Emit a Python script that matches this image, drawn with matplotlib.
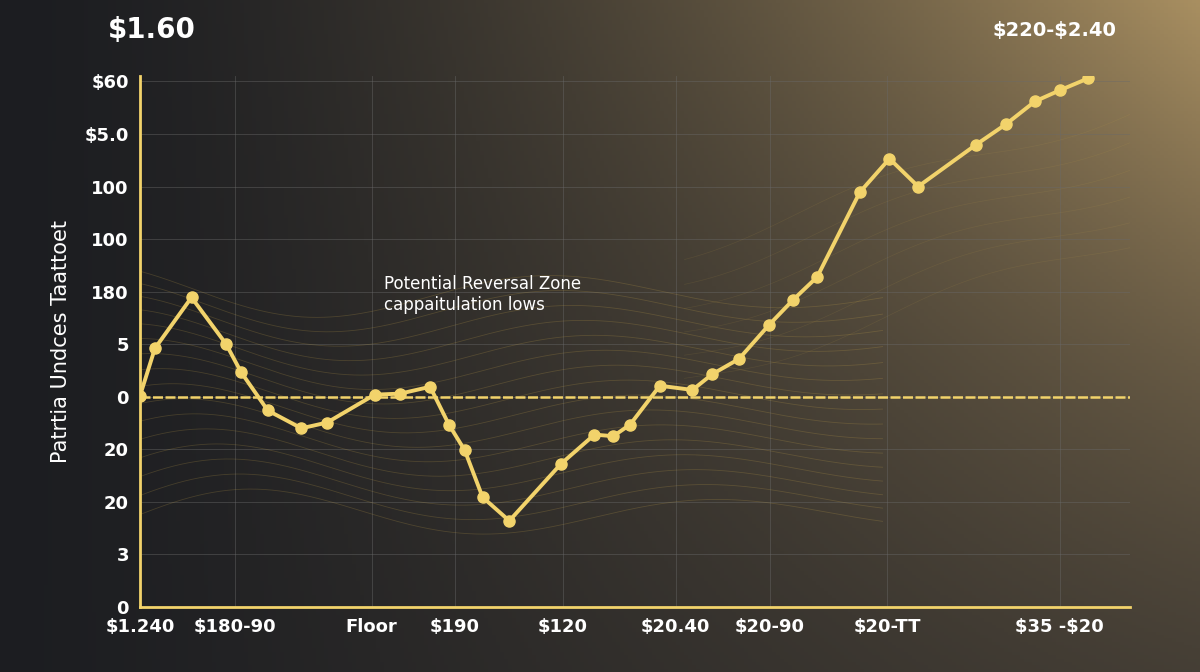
import numpy as np
import matplotlib
matplotlib.use("Agg")
import matplotlib.pyplot as plt

x_vals = [0.0,1.5,5.2,8.7,10.2,12.9,16.3,18.9,23.7,26.3,29.3,31.2,32.8,34.6,37.3,42.5,45.9,47.8,49.5,52.5,55.8,57.8,60.5,63.5,66.0,68.4,72.7,75.7,78.6,84.4,87.5,90.4,92.9,95.8]
y_vals = [4.02,4.92,5.89,5.0,4.47,3.74,3.4,3.51,4.04,4.06,4.19,3.47,2.98,2.09,1.64,2.72,3.28,3.25,3.47,4.21,4.13,4.43,4.72,5.36,5.85,6.28,7.89,8.53,8.0,8.79,9.19,9.62,9.83,10.06]
ytick_labels = ["0","3","20","20","0","5","180","100","100","$5.0","$60"]
xtick_pos = [0,9.6,23.4,31.8,42.7,54.1,63.6,75.5,92.9]
xtick_labels = ["$1.240","$180-90","Floor","$190","$120","$20.40","$20-90","$20-TT","$35 -$20"]

def esc(s):
    return s.replace("$", r"\$")

fig = plt.figure(figsize=(12,6.72), dpi=100)
bg = fig.add_axes([0,0,1,1]); bg.set_axis_off()
xx, yy = np.meshgrid(np.linspace(0,1,300), np.linspace(0,1,200))
dark = np.array([0.11,0.115,0.13]); tan = np.array([0.66,0.56,0.38]); mid = np.array([0.24,0.22,0.2])
t = np.clip(xx**1.6*(0.35+0.65*(1-yy)), 0, 1)[..., None]
img = dark*(1-t) + tan*t
t2 = np.clip(xx*yy*0.5,0,1)[...,None]
img = img*(1-t2)+mid*t2
bg.imshow(img, extent=[0,1,0,1], aspect='auto', origin='upper')

ax = fig.add_axes([0.1167,0.0967,0.825,0.79])
ax.set_facecolor('none')
gold = '#f2d36b'
xs = np.linspace(0,75,400)
for k in range(16):
    off = 4 + (k-8)*0.28
    amp = 0.55*np.exp(-xs/90)
    ax.plot(xs, off + amp*np.sin(xs/7.5 + k*0.15), color='#c9a64a', lw=0.6, alpha=0.22)
xs2 = np.linspace(55,100,200)
for k in range(6):
    ax.plot(xs2, 4.3+k*0.5+(xs2-55)*0.06+0.2*np.sin(xs2/6+k*0.3), color='#c9a64a', lw=0.5, alpha=0.12)
ax.set_xlim(0,100); ax.set_ylim(0,10.1)
ax.grid(True, color='#6a6a6a', lw=0.6, alpha=0.5)
ax.axhline(4, color=gold, lw=1.8, ls=(0,(4,1)))
ax.plot(x_vals, y_vals, color=gold, lw=2.8, marker='o', ms=8, zorder=5)
ax.set_yticks(range(11)); ax.set_yticklabels([esc(s) for s in ytick_labels])
ax.set_xticks(xtick_pos); ax.set_xticklabels([esc(s) for s in xtick_labels])
ax.tick_params(colors='white', labelsize=13, length=0, pad=8)
for l in ax.get_xticklabels()+ax.get_yticklabels(): l.set_fontweight('bold')
for s in ['top','right']: ax.spines[s].set_visible(False)
for s in ['left','bottom']: ax.spines[s].set_color(gold); ax.spines[s].set_linewidth(2)
ax.set_ylabel("Patrtia Undces Taattoet", color='white', fontsize=15, labelpad=10)
ax.text(24.6, 5.95, "Potential Reversal Zone\ncappaitulation lows", color='white', fontsize=12, va='center')
fig.text(0.09, 0.955, esc("$1.60"), color='white', fontsize=20, fontweight='bold', va='center')
fig.text(0.93, 0.955, esc("$220-$2.40"), color='white', fontsize=14, fontweight='bold', va='center', ha='right')
fig.savefig("out.png", dpi=100)
